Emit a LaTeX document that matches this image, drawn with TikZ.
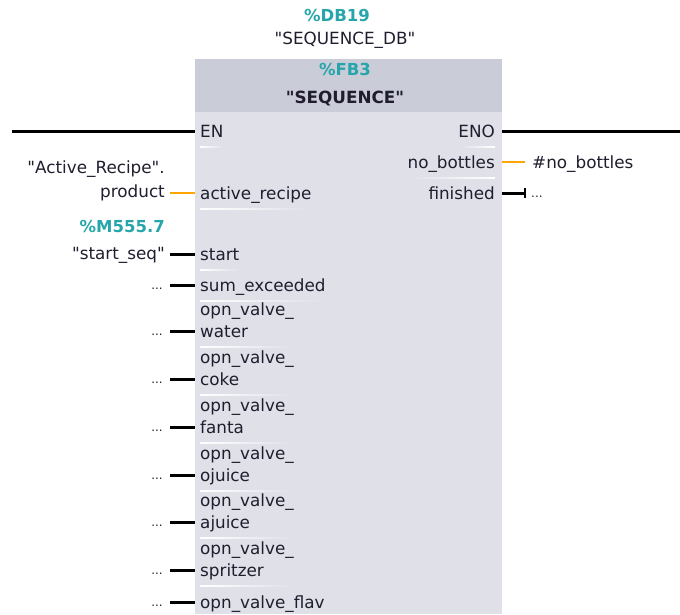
\documentclass[tikz,border=0pt]{standalone}
\usepackage{fontspec}
\setmainfont{DejaVu Sans}
\usetikzlibrary{positioning,arrows.meta}
\definecolor{blockbody}{RGB}{223,224,232}
\definecolor{blockhead}{RGB}{202,204,216}
\definecolor{addrteal}{RGB}{38,166,170}
\definecolor{wireorange}{RGB}{255,166,0}
\definecolor{labeltext}{RGB}{32,30,46}
\newcommand{\dq}{\textquotedbl}

\begin{document}
\begin{tikzpicture}[x=1pt,y=-1pt,
    font=\fontsize{16.8}{19}\selectfont,
    txt/.style={inner sep=0pt,text=labeltext,text height=13pt,text depth=1pt},
    pinl/.style={txt,anchor=west},
    pinr/.style={txt,anchor=east},
    opl/.style={txt,anchor=east},
    addr/.style={txt,text=addrteal,font=\fontsize{16.5}{19}\selectfont\bfseries},
    dots/.style={inner sep=0pt,text=labeltext,text height=4pt,text depth=0pt,
        font=\fontsize{12}{14}\selectfont},
    wire/.style={line width=3pt},
    owire/.style={line width=2.5pt,draw=wireorange}]
    \useasboundingbox (0,0) rectangle (680,614);

    % block
    \fill[blockbody] (195,112) rectangle (502,614);
    \fill[blockhead] (195,58) rectangle (502,112);
    \draw[white,line width=1pt] (195,58.5) -- (502,58.5);

    \node[addr] (dbnum) at (337,15) {\%DB19};
    \node[txt] (dbname) at (345,38) {\dq SEQUENCE\_DB\dq};
    \node[addr] (fbnum) at (345,69) {\%FB3};
    \node[txt,font=\fontsize{16.8}{19}\selectfont\bfseries] (fbname) at (345,97) {\dq SEQUENCE\dq};

    % inputs
    \node[pinl] (en) at (200,131) {EN};
    \node[pinl] (recipe) at (200,193) {active\_recipe};
    \node[pinl] (start) at (200,254) {start};
    \node[pinl] (sum) at (200,285) {sum\_exceeded};
    \node[pinl] (flav) at (200,602) {opn\_valve\_flav};
    \foreach \v/\y in {water/331,coke/379,fanta/427,ojuice/475,ajuice/522,spritzer/570}{
        \node[pinl] (\v) at (200,\y) {\v};
        \node[pinl] (top\v) at (200,\y-22) {opn\_valve\_};
        \shade[left color=white,right color=blockbody]
            ([yshift=-8pt]\v.south west) rectangle ([yshift=-9.5pt]\v.south -| top\v.east);
        \node[dots,anchor=east] (op\v) at (163,\y+2) {...};
        \draw[wire,shorten <=7pt,shorten >=5pt] (op\v.east |- \v.west) -- (\v.west);
    }
    \foreach \n in {en,recipe,start,sum}
        \shade[left color=white,right color=blockbody]
            ([yshift=-8pt]\n.south west) rectangle ([yshift=-9.5pt]\n.south east);

    \coordinate (railL) at (12,131);
    \draw[wire,shorten >=5pt] (railL) -- (en.west);

    \node[opl] (product) at (165,191) {product};
    \node[opl,above left=9pt and 0pt of product.north east] (recipevar) {\dq Active\_Recipe\dq.};
    \draw[owire,shorten <=5pt,shorten >=5pt] (product.east |- recipe.west) -- (recipe.west);

    \node[opl] (seq) at (165,253) {\dq start\_seq\dq};
    \node[addr,above left=12pt and 0pt of seq.north east] (seqaddr) {\%M555.7};
    \draw[wire,shorten <=5pt,shorten >=5pt] (seq.east |- start.west) -- (start.west);

    \node[dots,anchor=east] (opsum) at (163,287) {...};
    \draw[wire,shorten <=7pt,shorten >=5pt] (opsum.east |- sum.west) -- (sum.west);
    \node[dots,anchor=east] (opflav) at (163,604) {...};
    \draw[wire,shorten <=7pt,shorten >=5pt] (opflav.east |- flav.west) -- (flav.west);

    % outputs
    \node[pinr] (eno) at (495,131) {ENO};
    \node[pinr] (nob) at (495,162) {no\_bottles};
    \node[pinr] (fin) at (495,193) {finished};
    \foreach \n in {eno,nob}
        \shade[left color=blockbody,right color=white]
            ([yshift=-8pt]\n.south west) rectangle ([yshift=-9.5pt]\n.south east);

    \coordinate (railR) at (680,131);
    \draw[wire,shorten <=7pt] (eno.east) -- (railR);

    \node[txt,anchor=west] (nobvar) at (532,162) {\#no\_bottles};
    \draw[owire,shorten <=7pt,shorten >=7pt] (nob.east) -- (nobvar.west);

    \node[dots,anchor=west] (findots) at (531,195) {...};
    \draw[wire,shorten <=7pt,shorten >=5pt,-{Bar[width=10pt,line width=2pt]}]
        (fin.east) -- (findots.west |- fin.east);
\end{tikzpicture}
\end{document}
